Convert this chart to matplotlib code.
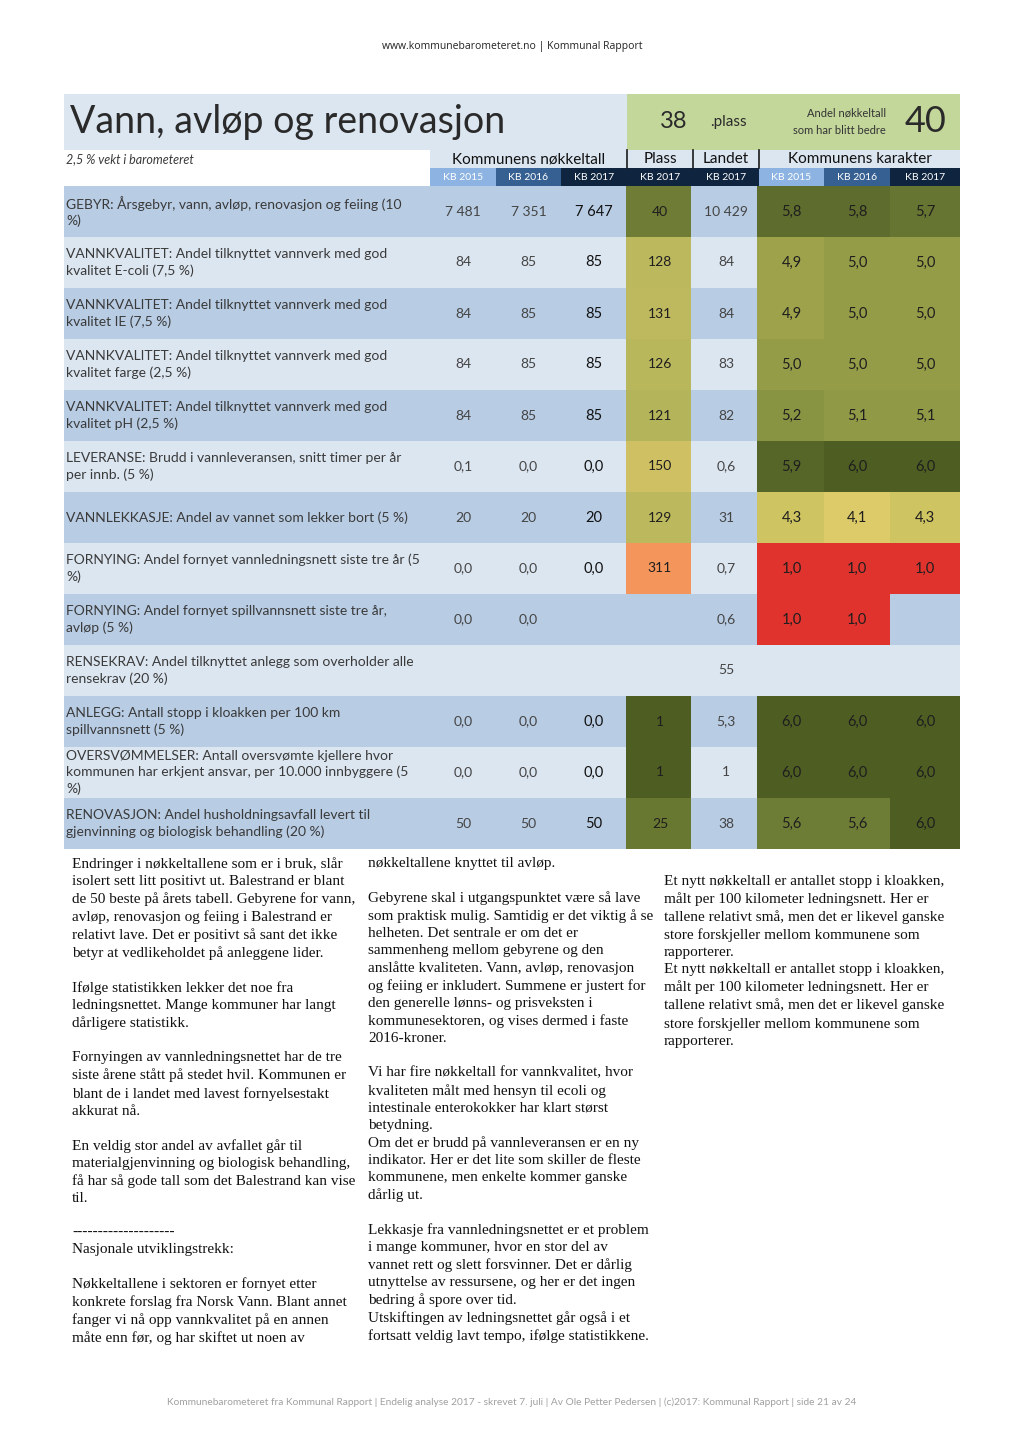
import numpy as np
import matplotlib
matplotlib.use('Agg')
import matplotlib.pyplot as plt
from matplotlib.patches import Rectangle
from matplotlib.colors import LinearSegmentedColormap, Normalize

# data
title = 'Vann, avløp og renovasjon'
rank_total = 38
better_share = 40
weight_text = '2,5 % vekt i barometeret'

row_labels = [
    'GEBYR: Årsgebyr, vann, avløp, renovasjon og feiing (10\n%)',
    'VANNKVALITET: Andel tilknyttet vannverk med god\nkvalitet E-coli (7,5 %)',
    'VANNKVALITET: Andel tilknyttet vannverk med god\nkvalitet IE (7,5 %)',
    'VANNKVALITET: Andel tilknyttet vannverk med god\nkvalitet farge (2,5 %)',
    'VANNKVALITET: Andel tilknyttet vannverk med god\nkvalitet pH (2,5 %)',
    'LEVERANSE: Brudd i vannleveransen, snitt timer per år\nper innb. (5 %)',
    'VANNLEKKASJE: Andel av vannet som lekker bort (5 %)',
    'FORNYING: Andel fornyet vannledningsnett siste tre år (5\n%)',
    'FORNYING: Andel fornyet spillvannsnett siste tre år,\navløp (5 %)',
    'RENSEKRAV: Andel tilknyttet anlegg som overholder alle\nrensekrav (20 %)',
    'ANLEGG: Antall stopp i kloakken per 100 km\nspillvannsnett (5 %)',
    'OVERSVØMMELSER: Antall oversvømte kjellere hvor\nkommunen har erkjent ansvar, per 10.000 innbyggere (5\n%)',
    'RENOVASJON: Andel husholdningsavfall levert til\ngjenvinning og biologisk behandling (20 %)',
]
kb2015 = ['7 481', '84', '84', '84', '84', '0,1', '20', '0,0', '0,0', '', '0,0', '0,0', '50']
kb2016 = ['7 351', '85', '85', '85', '85', '0,0', '20', '0,0', '0,0', '', '0,0', '0,0', '50']
kb2017 = ['7 647', '85', '85', '85', '85', '0,0', '20', '0,0', '', '', '0,0', '0,0', '50']
plass = [40, 128, 131, 126, 121, 150, 129, 311, None, None, 1, 1, 25]
landet = ['10 429', '84', '84', '83', '82', '0,6', '31', '0,7', '0,6', '55', '5,3', '1', '38']
kar2015 = [5.8, 4.9, 4.9, 5.0, 5.2, 5.9, 4.3, 1.0, 1.0, None, 6.0, 6.0, 5.6]
kar2016 = [5.8, 5.0, 5.0, 5.0, 5.1, 6.0, 4.1, 1.0, 1.0, None, 6.0, 6.0, 5.6]
kar2017 = [5.7, 5.0, 5.0, 5.0, 5.1, 6.0, 4.3, 1.0, None, None, 6.0, 6.0, 6.0]
col_heads = ['KB 2015', 'KB 2016', 'KB 2017', 'KB 2017', 'KB 2017', 'KB 2015', 'KB 2016', 'KB 2017']

col1_text = """Endringer i nøkkeltallene som er i bruk, slår
isolert sett litt positivt ut. Balestrand er blant
de 50 beste på årets tabell. Gebyrene for vann,
avløp, renovasjon og feiing i Balestrand er
relativt lave. Det er positivt så sant det ikke
betyr at vedlikeholdet på anleggene lider.

Ifølge statistikken lekker det noe fra
ledningsnettet. Mange kommuner har langt
dårligere statistikk.

Fornyingen av vannledningsnettet har de tre
siste årene stått på stedet hvil. Kommunen er
blant de i landet med lavest fornyelsestakt
akkurat nå.

En veldig stor andel av avfallet går til
materialgjenvinning og biologisk behandling,
få har så gode tall som det Balestrand kan vise
til.

--------------------
Nasjonale utviklingstrekk:

Nøkkeltallene i sektoren er fornyet etter
konkrete forslag fra Norsk Vann. Blant annet
fanger vi nå opp vannkvalitet på en annen
måte enn før, og har skiftet ut noen av"""

col2_text = """nøkkeltallene knyttet til avløp.

Gebyrene skal i utgangspunktet være så lave
som praktisk mulig. Samtidig er det viktig å se
helheten. Det sentrale er om det er
sammenheng mellom gebyrene og den
anslåtte kvaliteten. Vann, avløp, renovasjon
og feiing er inkludert. Summene er justert for
den generelle lønns- og prisveksten i
kommunesektoren, og vises dermed i faste
2016-kroner.

Vi har fire nøkkeltall for vannkvalitet, hvor
kvaliteten målt med hensyn til ecoli og
intestinale enterokokker har klart størst
betydning.
Om det er brudd på vannleveransen er en ny
indikator. Her er det lite som skiller de fleste
kommunene, men enkelte kommer ganske
dårlig ut.

Lekkasje fra vannledningsnettet er et problem
i mange kommuner, hvor en stor del av
vannet rett og slett forsvinner. Det er dårlig
utnyttelse av ressursene, og her er det ingen
bedring å spore over tid.
Utskiftingen av ledningsnettet går også i et
fortsatt veldig lavt tempo, ifølge statistikkene."""

col3_para = """Et nytt nøkkeltall er antallet stopp i kloakken,
målt per 100 kilometer ledningsnett. Her er
tallene relativt små, men det er likevel ganske
store forskjeller mellom kommunene som
rapporterer."""
col3_text = col3_para + '\n' + col3_para

# colour scales
grade_cmap = LinearSegmentedColormap.from_list('grade', [
    (0.0, '#e0332e'), (0.30, '#f4955c'), (0.62, '#dccb68'), (0.66, '#cfc462'),
    (0.78, '#9ea24b'), (0.80, '#959c48'), (0.84, '#8a9544'), (0.92, '#6f7e36'),
    (0.96, '#5e6d2e'), (1.0, '#4e5e22')])
grade_norm = Normalize(1, 6)
rank_cmap = LinearSegmentedColormap.from_list('rank', [
    (0.0, '#4e5e22'), (0.06, '#6b7a32'), (0.09, '#6e7c36'), (0.28, '#b5b55a'),
    (0.30, '#bdb85e'), (0.35, '#cfc163'), (0.73, '#f4955c'), (1.0, '#e0332e')])
rank_norm = Normalize(1, 428)

LIGHT = '#dce6f1'
MID = '#b8cce4'
TFONT = 'Lato'
GREY = '#3a3a3a'

fig = plt.figure(figsize=(10.24, 14.48), dpi=100)
ax = fig.add_axes([0, 0, 1, 1])
ax.set_xlim(0, 1024)
ax.set_ylim(1448, 0)
ax.axis('off')

ax.text(512, 47, 'www.kommunebarometeret.no | Kommunal Rapport', ha='center', va='center',
        fontsize=7.5, color='#222222', family='Open Sans')

# title band
ax.add_patch(Rectangle((64, 94), 563, 56, color=LIGHT, lw=0))
ax.add_patch(Rectangle((627, 94), 333, 56, color='#c4d79b', lw=0))
ax.text(70, 122, title, ha='left', va='center', fontsize=27, family=TFONT, color='#2a2a2a')
ax.text(687, 122, str(rank_total), ha='right', va='center', fontsize=17, family=TFONT, color='#2a2a2a')
ax.text(710, 122, '.plass', ha='left', va='center', fontsize=11, family=TFONT, color='#2a2a2a')
ax.text(886, 113, 'Andel nøkkeltall', ha='right', va='center', fontsize=8, family=TFONT, color='#333333')
ax.text(886, 131, 'som har blitt bedre', ha='right', va='center', fontsize=8, family=TFONT, color='#333333')
ax.text(947, 122, str(better_share), ha='right', va='center', fontsize=26, family=TFONT, color='#2a2a2a')

# header rows
edges = [430, 496, 561, 627, 693, 759, 824, 890, 960]
ax.add_patch(Rectangle((430, 150), 530, 18, color=LIGHT, lw=0))
ax.text(66, 159, weight_text, ha='left', va='center', fontsize=9, style='italic', family=TFONT, color=GREY)
groups = [('Kommunens nøkkeltall', 430, 627), ('Plass', 627, 693), ('Landet', 693, 759), ('Kommunens karakter', 759, 960)]
for name, a, b in groups:
    ax.text((a + b) / 2, 159, name, ha='center', va='center', fontsize=11, family=TFONT, color='#111111')
for x in [627, 693, 759]:
    ax.plot([x, x], [150, 168], color='#1a1a1a', lw=1.2)
head_colors = ['#8db3e2', '#366092', '#0f243e', '#0f243e', '#0f243e', '#8db3e2', '#366092', '#0f243e']
for i, h in enumerate(col_heads):
    ax.add_patch(Rectangle((edges[i], 168), edges[i + 1] - edges[i], 18, color=head_colors[i], lw=0))
    ax.text((edges[i] + edges[i + 1]) / 2, 177.5, h, ha='center', va='center', fontsize=7.5,
            family=TFONT, color='white')

# table body
y0, rh = 186, 51
centers = [(edges[i] + edges[i + 1]) / 2 for i in range(8)]
for r, lab in enumerate(row_labels):
    top = y0 + r * rh
    mid = top + rh / 2
    ax.add_patch(Rectangle((64, top), 896, rh, color=MID if r % 2 == 0 else LIGHT, lw=0))
    ax.text(66, mid, lab, ha='left', va='center', fontsize=10, family=TFONT,
            color=GREY, linespacing=1.4)
    ax.text(centers[0], mid, kb2015[r], ha='center', va='center', fontsize=10, family=TFONT, color='#444444')
    ax.text(centers[1], mid, kb2016[r], ha='center', va='center', fontsize=10, family=TFONT, color='#444444')
    ax.text(centers[2], mid, kb2017[r], ha='center', va='center', fontsize=10.5, family=TFONT, color='#111111')
    if plass[r] is not None:
        ax.add_patch(Rectangle((626, top), 65, rh, color=rank_cmap(rank_norm(plass[r])), lw=0))
        ax.text(centers[3], mid, str(plass[r]), ha='center', va='center', fontsize=10, family=TFONT, color='#1e1e1e')
    ax.text(centers[4], mid, landet[r], ha='center', va='center', fontsize=10, family=TFONT, color='#444444')
    for k, series in enumerate([kar2015, kar2016, kar2017]):
        v = series[r]
        if v is None:
            continue
        a = 757 if k == 0 else edges[5 + k]
        b = edges[6 + k]
        ax.add_patch(Rectangle((a, top), b - a, rh, color=grade_cmap(grade_norm(v)), lw=0))
        ax.text(centers[5 + k], mid, f'{v:.1f}'.replace('.', ','), ha='center', va='center',
                fontsize=10.5, family=TFONT, color='#1e1e1e')

# article text
body = dict(ha='left', va='top', fontsize=11, family='Liberation Serif', color='#111111', linespacing=1.40)
ax.text(72, 857, col1_text, **body)
ax.text(368, 857, col2_text, **body)
ax.text(664, 875, col3_text, **body)

ax.text(512, 1402, 'Kommunebarometeret fra Kommunal Rapport | Endelig analyse 2017 - skrevet 7. juli | '
        'Av Ole Petter Pedersen | (c)2017: Kommunal Rapport | side 21 av 24',
        ha='center', va='center', fontsize=7.3, family=TFONT, color='#a0a0a0')

fig.savefig('out.png', dpi=100)
